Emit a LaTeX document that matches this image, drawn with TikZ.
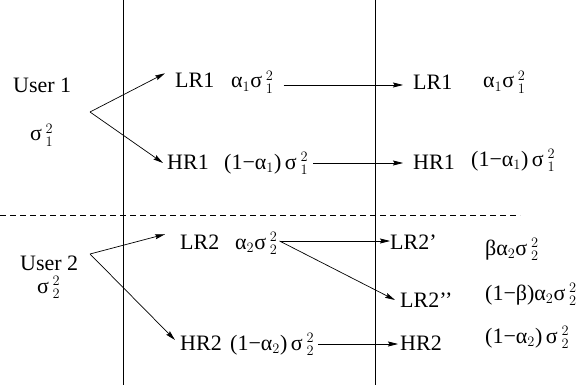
\documentclass[tikz,border=0pt]{standalone}
\usepackage{fontspec}
\setmainfont{Liberation Serif}
\usetikzlibrary{arrows.meta}
\begin{document}
\begin{tikzpicture}[x=1pt,y=-1pt,
  lbl/.style={anchor=base west,inner sep=0pt,font=\fontsize{22}{25}\selectfont},
  arr/.style={-{Stealth[length=10pt,width=5pt,inset=1.5pt]},line width=0.7pt},
  sep/.style={line width=0.7pt},
  dsh/.style={line width=0.7pt,dash pattern=on 6pt off 4pt}]
\useasboundingbox (0,0) rectangle (585,390);
% separators
\draw[sep] (123,0) -- (123,385);
\draw[sep] (375,0) -- (375,385);
\draw[dsh] (0,215) -- (520,215);
% user 1
\node[lbl] (u1) at (13,93) {User 1};
\node[lbl] (s1) at (30,141) {σ\,$^{2}_{1}$};
\coordinate (b1) at (90,112);
\node[lbl] (lr1a) at (175,88) {LR1};
\node[lbl] (a1a) at (231,88) {α$_1$σ\,$^{2}_{1}$};
\node[lbl] (hr1a) at (167,169) {HR1};
\node[lbl] (c1a) at (224,169) {(1−α$_1$)\,σ\,$^{2}_{1}$};
\node[lbl] (lr1b) at (413,90) {LR1};
\node[lbl] (a1b) at (483,88) {α$_1$σ\,$^{2}_{1}$};
\node[lbl] (hr1b) at (413,169) {HR1};
\node[lbl] (c1b) at (471,166) {(1−α$_1$)\,σ\,$^{2}_{1}$};
\draw[arr] (b1) -- ([xshift=-10pt]lr1a.north west);
\draw[arr] (b1) -- ([xshift=-4pt,yshift=6pt]hr1a.base west);
\draw[arr] ([xshift=10pt,yshift=3pt]a1a.base east) -- ([xshift=-10pt,yshift=5pt]lr1b.base west);
\draw[arr] ([xshift=5pt,yshift=6pt]c1a.base east) -- ([xshift=-10pt,yshift=6pt]hr1b.base west);
% user 2
\node[lbl] (u2) at (20,270) {User 2};
\node[lbl] (s2) at (37,293) {σ\,$^{2}_{2}$};
\coordinate (b2) at (90,254);
\node[lbl] (lr2a) at (180,249) {LR2};
\node[lbl] (a2a) at (235,249) {α$_2$σ\,$^{2}_{2}$};
\node[lbl] (hr2a) at (180,350) {HR2};
\node[lbl] (c2a) at (230,350) {(1−α$_2$)\,σ\,$^{2}_{2}$};
\node[lbl] (lr2p) at (390,249) {LR2’};
\node[lbl] (lr2pp) at (400,307) {LR2’’};
\node[lbl] (hr2b) at (400,350) {HR2};
\node[lbl] (d1) at (485,255) {βα$_2$σ\,$^{2}_{2}$};
\node[lbl] (d2) at (485,300) {(1−β)α$_2$σ\,$^{2}_{2}$};
\node[lbl] (d3) at (485,343) {(1−α$_2$)\,σ\,$^{2}_{2}$};
\draw[arr] (b2) -- ([xshift=-15pt,yshift=0pt]lr2a.north west);
\draw[arr] (b2) -- ([xshift=-5pt,yshift=10pt]hr2a.base west);
\coordinate (f2) at ([xshift=2pt,yshift=8pt]a2a.base east);
\draw[arr] (f2) -- ([yshift=8pt]lr2p.base west);
\draw[arr] (f2) -- ([xshift=-5pt,yshift=7pt]lr2pp.base west);
\draw[arr] ([xshift=4pt,yshift=6pt]c2a.base east) -- ([xshift=-2pt,yshift=6pt]hr2b.base west);
\end{tikzpicture}
\end{document}
